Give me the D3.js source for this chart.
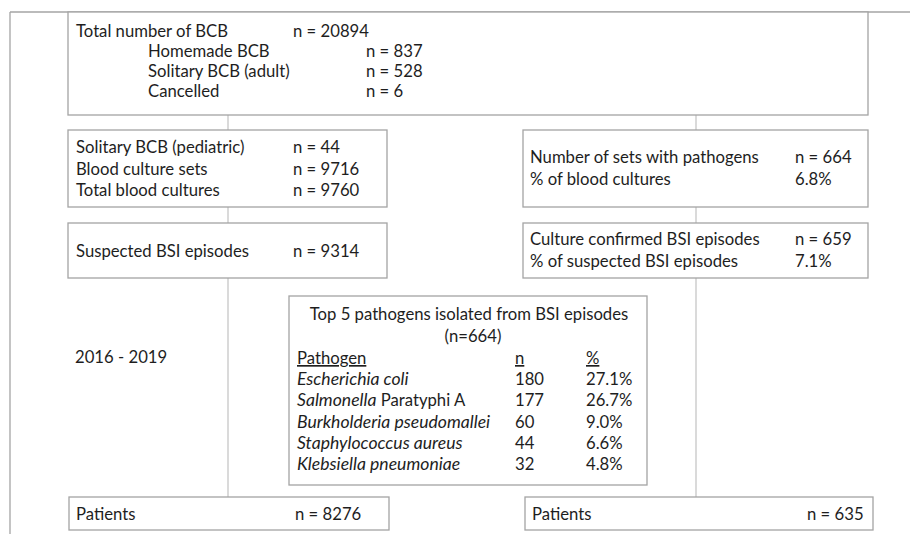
<!DOCTYPE html>
<html>
<meta charset="utf-8">
<style>
body { margin: 0; background: #fff; }
svg text { font-family: Lato, "Open Sans", sans-serif; font-size: 16.7px; fill: #1e1e1e; }
svg tspan.it { font-style: italic; font-size: 17.6px; }
.box { fill: #fff; stroke: #a4a4a4; stroke-width: 1.3; }
.link { stroke: #c6c6c6; stroke-width: 1.3; fill: none; }
</style>
<body>
<script src="https://d3js.org/d3.v7.min.js"></script>
<script>
// ---- data ----
var periodLabel = "2016 - 2019";

var bcbLabels = ["Total number of BCB", "Homemade BCB", "Solitary BCB (adult)", "Cancelled"];
var bcbValues = [20894, 837, 528, 6];

var setLabels = ["Solitary BCB (pediatric)", "Blood culture sets", "Total blood cultures"];
var setValues = [44, 9716, 9760];

var suspectLabel = "Suspected BSI episodes";
var suspectValue = 9314;

var pathoLabels = ["Number of sets with pathogens", "% of blood cultures"];
var pathoValues = ["n = 664", " 6.8%"];

var confirmLabels = ["Culture confirmed BSI episodes", "% of suspected BSI episodes"];
var confirmValues = ["n = 659", "7.1%"];

var tableTitle = ["Top 5 pathogens isolated from BSI episodes", "(n=664)"];
var tableHeader = ["Pathogen", "n", "%"];
var genus = ["Escherichia coli", "Salmonella", "Burkholderia pseudomallei", "Staphylococcus aureus", "Klebsiella pneumoniae"];
var genusSuffix = ["", " Paratyphi A", "", "", ""];
var pathogenN = [180, 177, 60, 44, 32];
var pathogenPct = ["27.1%", "26.7%", "9.0%", "6.6%", "4.8%"];

var patientsLeft = 8276;
var patientsRight = 635;

// ---- drawing ----
var width = 910, height = 534;

var svg = d3.select("body").append("svg")
    .attr("width", width)
    .attr("height", height);

function line(x1, y1, x2, y2, cls) {
  svg.append("line").attr("class", cls || "link")
    .attr("x1", x1).attr("y1", y1).attr("x2", x2).attr("y2", y2);
}
function box(x, y, w, h) {
  svg.append("rect").attr("class", "box")
    .attr("x", x).attr("y", y).attr("width", w).attr("height", h);
}
function rows(labels, values, xl, xv, y0, step, indent) {
  var y = d3.scalePoint().domain(d3.range(labels.length)).range([y0, y0 + step * (labels.length - 1)]);
  var g = svg.append("g");
  g.selectAll(".lab").data(labels).enter().append("text")
    .attr("x", function(d, i) { return indent && i > 0 ? indent : xl; })
    .attr("y", function(d, i) { return y(i); })
    .text(function(d) { return d; });
  g.selectAll(".val").data(values).enter().append("text")
    .attr("x", function(d, i) { return typeof xv === "function" ? xv(i) : xv; })
    .attr("y", function(d, i) { return y(i); })
    .text(function(d) { return typeof d === "number" ? "n = " + d : d; });
}

// outer frame lines
line(10, 12, 910, 12, "box");
line(10, 12, 10, 534, "box");

// connectors
line(228, 115, 228, 497);
line(696, 115, 696, 497);

// top box
box(68, 12, 800, 103);
rows(bcbLabels, bcbValues, 76, function(i) { return i === 0 ? 293 : 366; }, 37, 20, 148);

// left column
box(68, 130, 319, 77);
rows(setLabels, setValues, 76, 293, 153, 21.5);
box(68, 223, 319, 55);
rows([suspectLabel], [suspectValue], 76, 293, 257, 20);

// right column
box(523, 130, 345, 77);
rows(pathoLabels, pathoValues, 530, 795, 163, 21.5);
box(523, 223, 345, 55);
rows(confirmLabels, confirmValues, 530, 795, 245, 22);

// period label
svg.append("text").attr("x", 75).attr("y", 363).text(periodLabel);

// pathogen table
box(289, 296, 358, 189);
svg.append("text").attr("x", 469).attr("y", 320).attr("text-anchor", "middle").text(tableTitle[0]);
svg.append("text").attr("x", 473).attr("y", 342).attr("text-anchor", "middle").text(tableTitle[1]);

var colX = [297, 515, 586];
svg.selectAll(".hdr").data(tableHeader).enter().append("text")
    .attr("x", function(d, i) { return colX[i]; })
    .attr("y", 364)
    .style("text-decoration", "underline")
    .text(function(d) { return d; });

var rowY = d3.scalePoint().domain(d3.range(genus.length)).range([385, 470]);
var trow = svg.selectAll(".trow").data(genus).enter().append("g")
    .attr("transform", function(d, i) { return "translate(0," + rowY(i) + ")"; });
var nameText = trow.append("text").attr("x", colX[0]);
nameText.append("tspan").attr("class", "it").text(function(d) { return d; });
nameText.append("tspan").text(function(d, i) { return genusSuffix[i]; });
trow.append("text").attr("x", colX[1]).text(function(d, i) { return pathogenN[i]; });
trow.append("text").attr("x", colX[2]).text(function(d, i) { return pathogenPct[i]; });

// patients boxes
box(69, 497, 320, 33);
rows(["Patients"], [patientsLeft], 76, 295, 520, 20);
box(525, 497, 348, 33);
rows(["Patients"], [patientsRight], 532, 807, 520, 20);
</script>
</body>
</html>
